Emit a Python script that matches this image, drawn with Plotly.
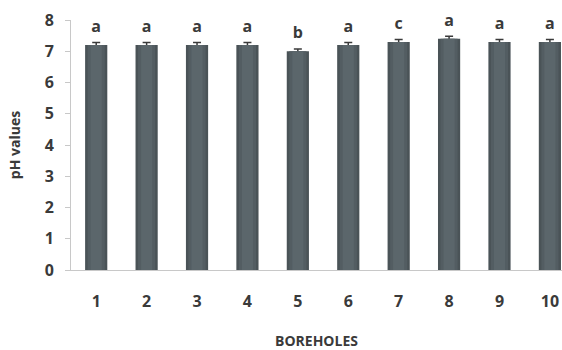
import plotly.graph_objects as go

boreholes = [1, 2, 3, 4, 5, 6, 7, 8, 9, 10]
ph_values = [7.2, 7.2, 7.2, 7.2, 7.0, 7.2, 7.3, 7.4, 7.3, 7.3]
ph_errors = [0.08, 0.08, 0.08, 0.08, 0.07, 0.08, 0.08, 0.08, 0.08, 0.08]
groups = ["a", "a", "a", "a", "b", "a", "c", "a", "a", "a"]
y_ticks = [0, 1, 2, 3, 4, 5, 6, 7, 8]

FONT = "Open Sans"
TEXT = "#3a3a3a"

fig = go.Figure()

# shaded column: dark outer bar with lighter inner bands for a rounded look
shades = [("#4a5357", 0.44), ("#535d62", 0.34), ("#5b666b", 0.22)]
for i, (col, w) in enumerate(shades):
    fig.add_trace(go.Bar(
        x=boreholes, y=ph_values, width=w,
        marker=dict(color=col, line=dict(width=0)),
        error_y=dict(type="data", array=ph_errors, color="#3a3a3a",
                     thickness=1.5, width=4, visible=(i == 0)),
        hoverinfo="skip" if i else None,
        showlegend=False,
    ))

# significance letters above each bar
fig.add_trace(go.Scatter(
    x=boreholes, y=[v + e + 0.47 for v, e in zip(ph_values, ph_errors)],
    mode="text", text=groups, textposition="middle center",
    textfont=dict(family=FONT, size=16, color=TEXT, weight="bold"),
    cliponaxis=False, showlegend=False,
))

fig.update_layout(
    width=562, height=350,
    margin=dict(l=71, r=0, t=20, b=80),
    barmode="overlay",
    plot_bgcolor="white", paper_bgcolor="white",
    font=dict(family=FONT, color=TEXT),
    xaxis=dict(
        range=[0.5, 10.24], tickmode="array", tickvals=boreholes,
        ticktext=[str(b) for b in boreholes],
        showline=True, linecolor="#c8c8c8", linewidth=1,
        showgrid=False, zeroline=False, ticks="",
        ticklabelstandoff=17,
        tickfont=dict(family=FONT, size=16, color=TEXT, weight="bold"),
        title=dict(text="BOREHOLES", standoff=24,
                   font=dict(family=FONT, size=14, color=TEXT, weight="bold")),
    ),
    yaxis=dict(
        range=[0, 8], tickmode="array", tickvals=y_ticks,
        showline=True, linecolor="#c8c8c8", linewidth=1,
        showgrid=False, zeroline=False,
        ticks="outside", ticklen=5, tickcolor="#c8c8c8",
        ticklabelstandoff=8,
        tickfont=dict(family=FONT, size=16, color=TEXT, weight="bold"),
        title=dict(text="pH values", standoff=20,
                   font=dict(family=FONT, size=14, color=TEXT, weight="bold")),
    ),
)

fig.write_html("out.html")
